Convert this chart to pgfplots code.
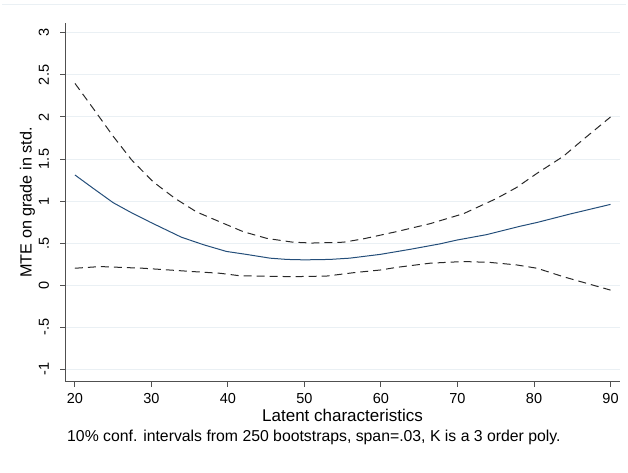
\documentclass[border=0pt]{standalone}
\usepackage{fontspec}
\setmainfont{Liberation Sans}
\usepackage{pgfplots}
\pgfplotsset{compat=1.18}
\usepackage{pgfplotstable}

\definecolor{mteblue}{RGB}{36,78,122}
\definecolor{bandgray}{RGB}{40,40,40}
\definecolor{gridblue}{RGB}{234,240,244}
\definecolor{axisgray}{RGB}{80,80,80}

% Marginal treatment effect and bootstrap bounds
\pgfplotstableread{
x     y
20    1.31
22.4  1.15
25    0.98
27.2  0.87
29.8  0.75
33.9  0.57
36.8  0.48
39.8  0.40
42.4  0.365
45.5  0.32
47.7  0.305
50    0.30
53.3  0.305
55.9  0.32
59.9  0.365
63.8  0.425
67.7  0.49
69.9  0.535
73.8  0.60
78.2  0.70
80.4  0.745
84.7  0.845
90    0.96
}\mtecurve

\pgfplotstableread{
x     y
20    2.40
22.4  2.10
25    1.77
27.4  1.49
30.2  1.23
33.1  1.03
35.9  0.87
39    0.75
42    0.635
45.1  0.555
48.5  0.51
51    0.50
55.1  0.51
57.7  0.55
62    0.635
66.4  0.73
70.8  0.85
75.1  1.03
77.7  1.16
80.4  1.33
83.8  1.53
86.4  1.73
90    2.00
}\mteupper

\pgfplotstableread{
x     y
20    0.20
23.3  0.22
28.9  0.20
35.5  0.16
39    0.14
41.6  0.11
48.5  0.10
52.9  0.107
56.4  0.147
60    0.18
62    0.21
66.4  0.26
70.8  0.28
74.2  0.27
77.7  0.24
80.4  0.20
83.8  0.10
86.9  0.02
90    -0.06
}\mtelower

\begin{document}
\begin{tikzpicture}
\path[use as bounding box] (0,0) rectangle (628pt,473pt);
\draw[gridblue, line width=1pt] (2pt,468pt) -- (626pt,468pt);
\begin{axis}[
  at={(65pt,91.3pt)}, anchor=south west,
  scale only axis, width=555pt, height=358.4pt,
  xmin=18.7, xmax=91.24, ymin=-1.15, ymax=3.115,
  axis lines*=left,
  axis line style={axisgray, line width=1pt},
  every tick/.style={axisgray, line width=1pt},
  tick align=outside, major tick length=5pt,
  xtick={20,30,...,90},
  ytick={-1,-0.5,0,0.5,1,1.5,2,2.5,3},
  yticklabels={-1,-.5,0,.5,1,1.5,2,2.5,3},
  ymajorgrids,
  major grid style={gridblue, line width=1pt},
  /pgf/number format/assume math mode=true,
  tick label style={font=\fontsize{14.5}{17}\selectfont, text=black},
  yticklabel style={xshift=-11pt, rotate=90, anchor=base, inner sep=0pt},
  xticklabel style={inner sep=0pt, anchor=base, yshift=-16.6pt},
  xlabel={Latent characteristics},
  ylabel={MTE on grade in std.},
  xlabel style={font=\fontsize{17}{20}\selectfont,
    at={(axis description cs:0.5,-0.1097)}, anchor=base},
  ylabel style={font=\fontsize{16.2}{19}\selectfont,
    at={(axis description cs:-0.060,0.5)}, anchor=base},
  clip=false,
]
\addplot[bandgray, line width=1pt, dash pattern=on 8pt off 5pt] table[x=x,y=y] {\mteupper};
\addplot[bandgray, line width=1pt, dash pattern=on 8pt off 5pt] table[x=x,y=y] {\mtelower};
\addplot[mteblue, line width=1pt] table[x=x,y=y] {\mtecurve};
\node[anchor=base west, inner sep=0pt, font=\fontsize{15.8}{18}\selectfont]
  at (axis description cs:0.0036,-0.1669)
  {10\% conf. intervals from 250 bootstraps, span=.03, K is a 3 order poly.};
\end{axis}
\end{tikzpicture}
\end{document}
